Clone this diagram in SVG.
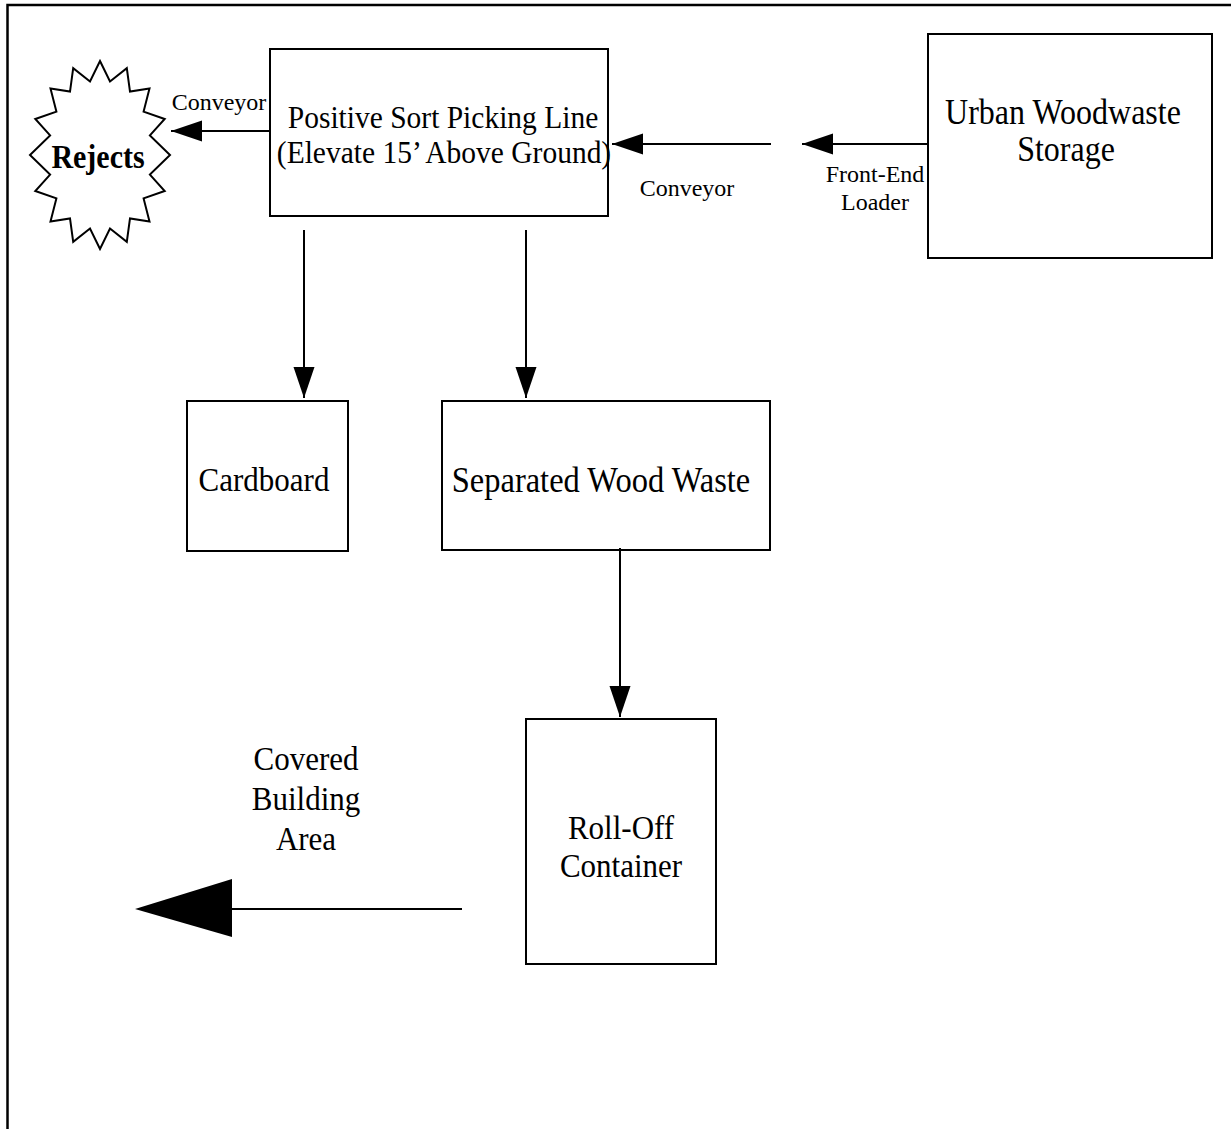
<svg xmlns="http://www.w3.org/2000/svg" width="1231" height="1129" viewBox="0 0 1231 1129">
  <style>
    .box { fill: #fff; stroke: #000; stroke-width: 2; }
    .lbl { font-family: "Liberation Serif", "Times New Roman", serif; font-size: 31px; fill: #000; text-anchor: middle; }
    .small { font-family: "Liberation Serif", "Times New Roman", serif; font-size: 24px; fill: #000; text-anchor: middle; }
    .edge { stroke: #000; stroke-width: 2; fill: none; marker-end: url(#head); }
  </style>
  <defs>
    <marker id="head" markerUnits="userSpaceOnUse" markerWidth="32" markerHeight="22" refX="31" refY="10.5" orient="auto">
      <path d="M0,0 L31,10.5 L0,21 z" fill="#000"/>
    </marker>
  </defs>

  <rect width="1231" height="1129" fill="#fff"/>

  <!-- page frame (top and left edges only) -->
  <path d="M7.5,1129 V5 H1231" fill="none" stroke="#000" stroke-width="2.5"/>

  <!-- node labels are set slightly tall: translate to the baseline, then stretch vertically -->
  <g id="rejects">
    <polygon class="box" points="100.0,61.0 110.0,81.5 126.8,68.2 130.0,91.6 149.5,88.5 143.6,111.6 164.7,119.0 149.9,135.4 170.0,155.0 149.9,174.6 164.7,191.0 143.6,198.4 149.5,221.5 130.0,218.4 126.8,241.8 110.0,228.5 100.0,249.0 90.0,228.5 73.2,241.8 70.0,218.4 50.5,221.5 56.4,198.4 35.3,191.0 50.1,174.6 30.0,155.0 50.1,135.4 35.3,119.0 56.4,111.6 50.5,88.5 70.0,91.6 73.2,68.2 90.0,81.5"/>
    <text class="lbl" transform="translate(98,168) scale(1,1.1)" font-weight="bold" style="font-size:30px">Rejects</text>
  </g>

  <g id="picking-line">
    <rect class="box" x="270" y="49" width="338" height="167"/>
    <text class="lbl" transform="translate(443,128) scale(1,1.1)" style="font-size:29.5px">Positive Sort Picking Line</text>
    <text class="lbl" transform="translate(444,163) scale(1,1.1)" style="font-size:29.5px">(Elevate 15’ Above Ground)</text>
  </g>

  <g id="woodwaste-storage">
    <rect class="box" x="928" y="34" width="284" height="224"/>
    <text class="lbl" transform="translate(1063,124) scale(1,1.1)" style="font-size:32px">Urban Woodwaste</text>
    <text class="lbl" transform="translate(1066,161) scale(1,1.1)" style="font-size:32px">Storage</text>
  </g>

  <g id="cardboard">
    <rect class="box" x="187" y="401" width="161" height="150"/>
    <text class="lbl" transform="translate(264,491) scale(1,1.1)">Cardboard</text>
  </g>

  <g id="separated-wood">
    <rect class="box" x="442" y="401" width="328" height="149"/>
    <text class="lbl" transform="translate(601,492) scale(1,1.1)" style="font-size:32.5px">Separated Wood Waste</text>
  </g>

  <g id="roll-off">
    <rect class="box" x="526" y="719" width="190" height="245"/>
    <text class="lbl" transform="translate(621,839) scale(1,1.1)">Roll-Off</text>
    <text class="lbl" transform="translate(621,877) scale(1,1.1)">Container</text>
  </g>

  <g id="covered-area">
    <text class="lbl" transform="translate(306,770) scale(1,1.1)">Covered</text>
    <text class="lbl" transform="translate(306,810) scale(1,1.1)">Building</text>
    <text class="lbl" transform="translate(306,850) scale(1,1.1)">Area</text>
  </g>

  <g id="connectors">
    <line class="edge" x1="270" y1="131" x2="171" y2="131"/>
    <text class="small" x="219" y="110">Conveyor</text>

    <line class="edge" x1="928" y1="144" x2="802" y2="144"/>
    <text class="small" x="875" y="182">Front-End</text>
    <text class="small" x="875" y="210">Loader</text>

    <line class="edge" x1="771" y1="144" x2="612" y2="144"/>
    <text class="small" x="687" y="196">Conveyor</text>

    <line class="edge" x1="304" y1="230" x2="304" y2="398"/>
    <line class="edge" x1="526" y1="230" x2="526" y2="398"/>
    <line class="edge" x1="620" y1="548" x2="620" y2="717"/>

    <line x1="462" y1="909" x2="230" y2="909" stroke="#000" stroke-width="2"/>
    <polygon points="135,909 232,879 232,937" fill="#000"/>
  </g>
</svg>
